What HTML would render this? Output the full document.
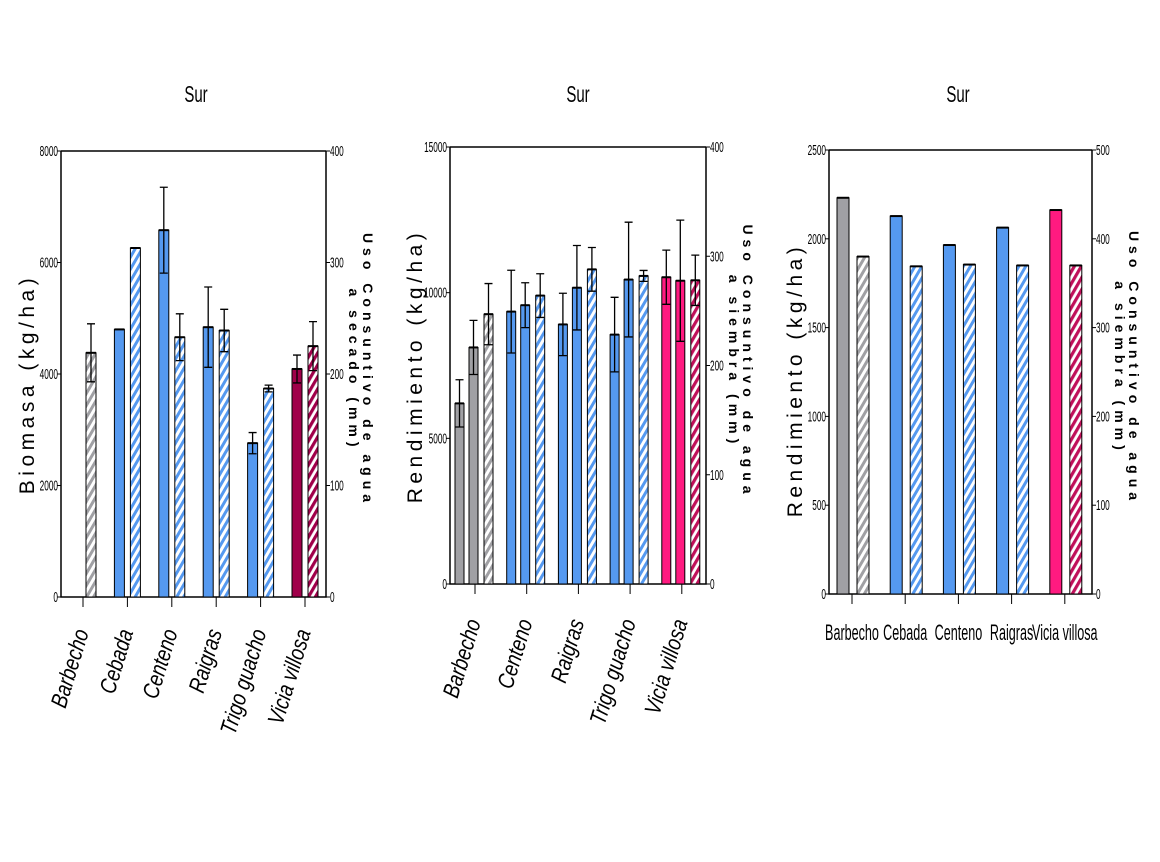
<!DOCTYPE html>
<html><head><meta charset="utf-8"><style>
body{margin:0;background:#fff;width:1160px;height:862px;overflow:hidden}
svg{display:block}
text{font-family:"Liberation Sans Narrow","Liberation Sans",sans-serif;fill:#000}
.tick{font-size:15px}
.ttl{font-size:20px}
.yt{font-family:"Liberation Sans",sans-serif;font-size:21px;letter-spacing:4.5px}
.rt{font-family:"Liberation Sans",sans-serif;font-size:14px;font-weight:bold;letter-spacing:5px}
.xl{font-size:23px;font-style:italic}
</style></head><body>
<svg id="chart" width="1160" height="862" viewBox="0 0 1160 862">
<defs>
<pattern id="h-gray" patternUnits="userSpaceOnUse" width="6" height="6" patternTransform="rotate(30)"><rect width="6" height="6" fill="#fff"/><rect width="3" height="6" fill="#a0a0a4"/></pattern>
<pattern id="h-blue" patternUnits="userSpaceOnUse" width="6" height="6" patternTransform="rotate(30)"><rect width="6" height="6" fill="#fff"/><rect width="3" height="6" fill="#5599f0"/></pattern>
<pattern id="h-wine" patternUnits="userSpaceOnUse" width="6" height="6" patternTransform="rotate(30)"><rect width="6" height="6" fill="#fff"/><rect width="3.2" height="6" fill="#a0004a"/></pattern>
<pattern id="h-pink" patternUnits="userSpaceOnUse" width="6" height="6" patternTransform="rotate(30)"><rect width="6" height="6" fill="#fff"/><rect width="3.2" height="6" fill="#c0105a"/></pattern>
</defs>
<g id="p1"></g>
<g id="p2"></g>
<g id="p3"></g>
</svg>
<script>
// Panel 1 data
const p1Categories = ["Barbecho","Cebada","Centeno","Raigras","Trigo guacho","Vicia villosa"];
const p1Biomass = [null,4800,6580,4840,2760,4090];
const p1BiomassErr = [0,0,770,720,190,250];
const p1Water = [219,313,233,239,187,225];
const p1WaterErr = [26,0,21,19,3,22];
const p1LeftTicks = [0,2000,4000,6000,8000];
const p1RightTicks = [0,100,200,300,400];
// Panel 2 data
const p2Categories = ["Barbecho","Centeno","Raigras","Trigo guacho","Vicia villosa"];
const p2YieldA = [6200,9350,8910,8560,10530];
const p2YieldAErr = [810,1420,1070,1280,930];
const p2YieldB = [8120,9570,10170,10450,10410];
const p2YieldBErr = [930,770,1450,1970,2080];
const p2Water = [247,264,288,282,278];
const p2WaterErr = [28,20,20,5,23];
const p2LeftTicks = [0,5000,10000,15000];
const p2RightTicks = [0,100,200,300,400];
// Panel 3 data
const p3Categories = ["Barbecho","Cebada","Centeno","Raigras","Vicia villosa"];
const p3Yield = [2231,2128,1965,2063,2162];
const p3Water = [380,369,371,370,370];
const p3LeftTicks = [0,500,1000,1500,2000,2500];
const p3RightTicks = [0,100,200,300,400,500];

const NS="http://www.w3.org/2000/svg";
function mk(parent,tag,attrs,txt){const e=document.createElementNS(NS,tag);for(const k in attrs)e.setAttribute(k,attrs[k]);if(txt!==undefined)e.textContent=txt;parent.appendChild(e);return e;}
function scale(d0,d1,r0,r1){return v=>r0+(v-d0)/(d1-d0)*(r1-r0);}

function frame(g,L,R,T,B,yL,yR,lt,rt,ylab,r1,r2,titleX,ylx,yly){
  const t=mk(g,'text',{x:0,y:0,'text-anchor':'middle',class:'ttl',transform:`translate(${titleX},102) scale(0.75,1.15)`},'Sur');
  
  
  const ax=mk(g,'path',{d:`M${L},${T}H${R}M${L},${T}V${B}H${R}V${T}`,stroke:'#000','stroke-width':1.5,fill:'none'});
  
  
  lt.forEach(v=>{const y=yL(v);mk(g,'line',{x1:L-4,x2:L,y1:y,y2:y,stroke:'#000'});
    const tx=mk(g,'text',{x:0,y:0,'text-anchor':'end',class:'tick',transform:`translate(${L-3},${y+5}) scale(0.55,1)`},v);
    
    });
  rt.forEach(v=>{const y=yR(v);mk(g,'line',{x1:R,x2:R+4,y1:y,y2:y,stroke:'#000'});
    const tx=mk(g,'text',{x:0,y:0,'text-anchor':'start',class:'tick',transform:`translate(${R+4},${y+5}) scale(0.55,1)`},v);
    
    });
  const yl=mk(g,'text',{x:0,y:0,'text-anchor':'middle',class:'yt',transform:`translate(${ylx},${yly}) rotate(-90)`},ylab);
  
  
  const ra=mk(g,'text',{x:0,y:0,'text-anchor':'middle',class:'rt',transform:`translate(${R+37},${(T+B)/2-4}) rotate(90)`},r1);
  
  
  const rb=mk(g,'text',{x:0,y:0,'text-anchor':'middle',class:'rt',transform:`translate(${R+23},${(T+B)/2-4}) rotate(90)`},r2);
  
  
}
function bar(g,x,w,yTop,yBase,fill,name){
  const r=mk(g,'rect',{x:x,y:yTop,width:w,height:yBase-yTop,fill:fill,stroke:'#000','stroke-width':1});
  
  
  mk(g,'line',{x1:x,x2:x+w,y1:yTop,y2:yTop,stroke:'#000','stroke-width':2});
}
function err(g,cx,y1,y2){
  if(Math.abs(y1-y2)<1)return;
  const e=mk(g,'path',{d:`M${cx},${y1}V${y2}M${cx-4},${y1}H${cx+4}M${cx-4},${y2}H${cx+4}`,stroke:'#000','stroke-width':1.3,fill:'none'});
  
  
}
function xlab(g,x,y,txt){
  const t=mk(g,'text',{x:0,y:0,'text-anchor':'end',class:'xl',transform:`translate(${x+6},${y}) rotate(-73) scale(0.82,1)`},txt);
  
  
}

// Panel 1
(function(){
  const g=document.getElementById('p1');
  const L=61,R=326,T=151,B=597;
  const yL=scale(0,8000,B,T),yR=scale(0,400,B,T);
  frame(g,L,R,T,B,yL,yR,p1LeftTicks,p1RightTicks,'Biomasa (kg/ha)','Uso Consuntivo de agua','a secado (mm)',196,34,384);
  p1Categories.forEach((c,i)=>{
    const cx=83+44.4*i;
    const cols=i==0?['#a0a0a4','url(#h-gray)']:i==5?['#a0004a','url(#h-wine)']:['#5599f0','url(#h-blue)'];
    mk(g,'line',{x1:cx,x2:cx,y1:B,y2:B+10,stroke:'#000'});
    if(p1Biomass[i]!==null){bar(g,cx-13,10,yL(p1Biomass[i]),B,cols[0],'biomass-bar');
      err(g,cx-8,yL(p1Biomass[i]+p1BiomassErr[i]),yL(p1Biomass[i]-p1BiomassErr[i]));}
    bar(g,cx+3,10,yR(p1Water[i]),B,cols[1],'water-use-bar');
    err(g,cx+8,yR(p1Water[i]+p1WaterErr[i]),yR(p1Water[i]-p1WaterErr[i]));
    xlab(g,cx,632,c);
  });
})();
// Panel 2
(function(){
  const g=document.getElementById('p2');
  const L=450,R=706,T=147,B=584;
  const yL=scale(0,15000,B,T),yR=scale(0,400,B,T);
  frame(g,L,R,T,B,yL,yR,p2LeftTicks,p2RightTicks,'Rendimiento (kg/ha)','Uso Consuntivo de agua','a siembra (mm)',578,422,366);
  p2Categories.forEach((c,i)=>{
    const cx=475+51.7*i;
    const cols=i==0?['#a0a0a4','url(#h-gray)']:i==4?['#ff1a80','url(#h-pink)']:['#5599f0','url(#h-blue)'];
    mk(g,'line',{x1:cx,x2:cx,y1:B,y2:B+10,stroke:'#000'});
    bar(g,cx-20,9,yL(p2YieldA[i]),B,cols[0],'yield-bar-a');
    err(g,cx-15.5,yL(p2YieldA[i]+p2YieldAErr[i]),yL(p2YieldA[i]-p2YieldAErr[i]));
    bar(g,cx-6,9,yL(p2YieldB[i]),B,cols[0],'yield-bar-b');
    err(g,cx-1.5,yL(p2YieldB[i]+p2YieldBErr[i]),yL(p2YieldB[i]-p2YieldBErr[i]));
    bar(g,cx+9,9,yR(p2Water[i]),B,cols[1],'water-use-bar');
    err(g,cx+13.5,yR(p2Water[i]+p2WaterErr[i]),yR(p2Water[i]-p2WaterErr[i]));
    xlab(g,cx,622,c);
  });
})();
// Panel 3
(function(){
  const g=document.getElementById('p3');
  const L=829,R=1092,T=150,B=594;
  const yL=scale(0,2500,B,T),yR=scale(0,500,B,T);
  frame(g,L,R,T,B,yL,yR,p3LeftTicks,p3RightTicks,'Rendimiento (kg/ha)','Uso Consuntivo de agua','a siembra (mm)',958,802,380);
  p3Categories.forEach((c,i)=>{
    const cx=852+53.2*i;
    const cols=i==0?['#a0a0a4','url(#h-gray)']:i==4?['#ff1a80','url(#h-pink)']:['#5599f0','url(#h-blue)'];
    mk(g,'line',{x1:cx,x2:cx,y1:B,y2:B+10,stroke:'#000'});
    bar(g,cx-15,12,yL(p3Yield[i]),B,cols[0],'yield-bar');
    bar(g,cx+5,12,yR(p3Water[i]),B,cols[1],'water-use-bar');
    const t=mk(g,'text',{x:0,y:0,'text-anchor':'middle',class:'ttl',transform:`translate(${cx},640) scale(0.63,1.1)`},c);
    
    
  });
})();
</script>
</body></html>
